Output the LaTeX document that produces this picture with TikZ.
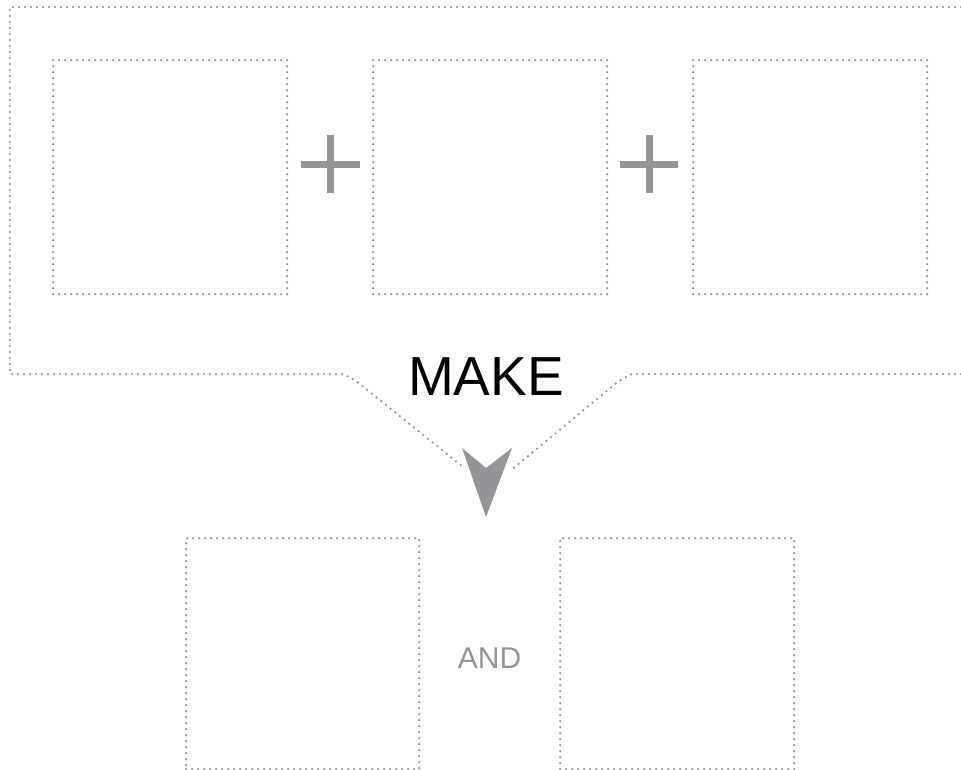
\documentclass[tikz,border=0pt]{standalone}
\usepackage{fontspec}
\setmainfont{Liberation Sans}
\definecolor{dotgray}{HTML}{8E8E90}
\definecolor{symgray}{HTML}{939598}
\tikzset{
  dotline/.style={draw=dotgray, line width=2.4pt, line cap=round, dash pattern=on 0pt off 6pt},
  cardbox/.style={dotline, minimum width=234pt, minimum height=234pt, inner sep=0pt, fill=none},
  plusbar/.style={fill=symgray, draw=none}
}
\begin{document}
\begin{tikzpicture}[x=1pt,y=-1pt]
\useasboundingbox (0,0) rectangle (961,770);
% outer frame
\draw[dotline] (961,7) -- (10,7) -- (10,374) -- (343,374) [rounded corners=6pt] -- (355,380) [sharp corners] -- (463,467);
\draw[dotline] (961,374) -- (632,374) [rounded corners=6pt] -- (620,380) [sharp corners] -- (510,471);
% top boxes
\node[cardbox, anchor=north west] (b1) at (52,59) {};
\node[cardbox, anchor=north west] (b2) at (372,59) {};
\node[cardbox, anchor=north west] (b3) at (692,59) {};
% plus signs
\fill[plusbar] (301,161) rectangle (360,168);
\fill[plusbar] (327,135) rectangle (334,193);
\fill[plusbar] (620,161) rectangle (678,168);
\fill[plusbar] (646,135) rectangle (653,193);
% MAKE
\node[font=\fontsize{55}{60}\selectfont, text=black, inner sep=0pt] (make) at (486,377) {MAKE};
% arrow
\fill[symgray] (462,448) -- (486,468) -- (512,448) -- (486,517) -- cycle;
% bottom boxes
\node[cardbox, anchor=north west, minimum height=231pt, minimum width=233pt] (b4) at (185,537) {};
\node[cardbox, anchor=north west, minimum height=231pt, minimum width=234pt] (b5) at (559,537) {};
\node[font=\fontsize{30}{34}\selectfont, text=symgray, inner sep=0pt] (and) at (489.5,658) {AND};
\end{tikzpicture}
\end{document}
